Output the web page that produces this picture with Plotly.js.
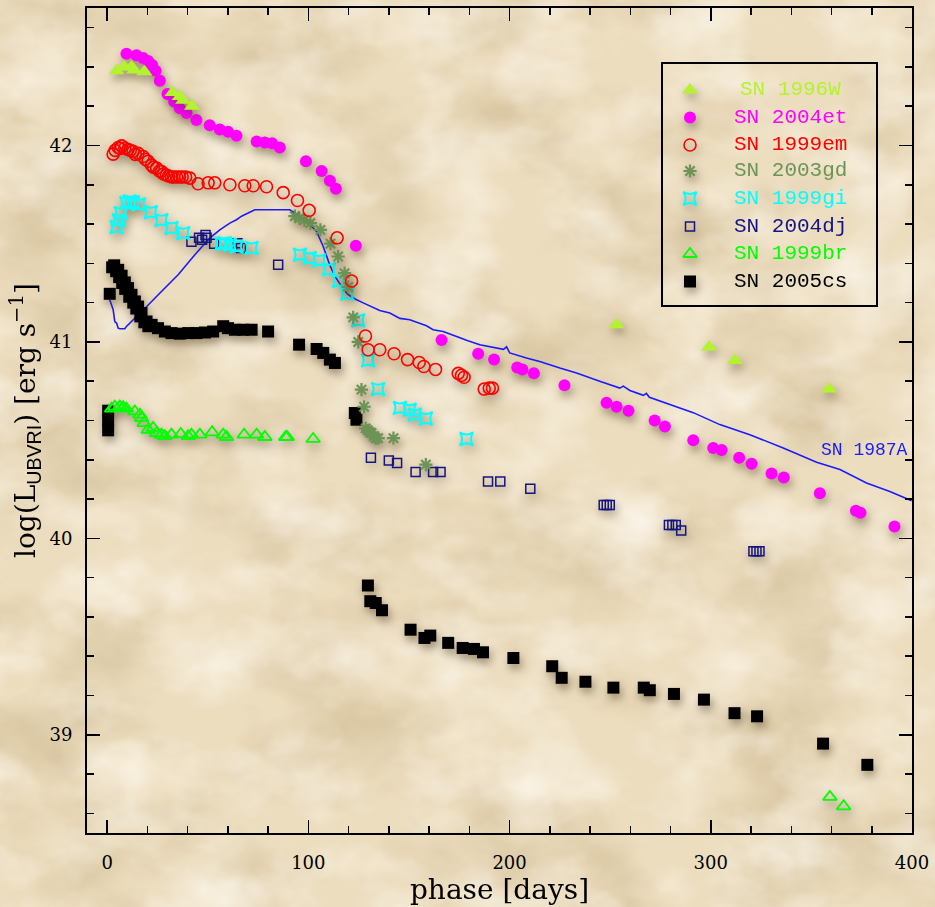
<!DOCTYPE html>
<html>
<head>
<meta charset="utf-8">
<script src="https://cdn.plot.ly/plotly-3.0.1.min.js"></script>
<style>
  html, body { margin: 0; padding: 0; width: 935px; height: 907px; overflow: hidden; background: #ecdec1; }
  #paper { position: absolute; left: 0; top: 0; width: 935px; height: 907px; }
  #chart { position: absolute; left: 0; top: 0; width: 935px; height: 907px; }
  /* soft cast shadow under the data markers */
  #chart .xy .scatterlayer .trace .points { filter: drop-shadow(2px 5px 5px rgba(70, 50, 20, 0.5)); }
</style>
</head>
<body>
<!-- parchment background -->
<svg id="paper" width="935" height="907" xmlns="http://www.w3.org/2000/svg">
  <defs>
    <filter id="brownGrain" x="0" y="0" width="100%" height="100%">
      <feTurbulence type="fractalNoise" baseFrequency="0.007 0.010" numOctaves="5" seed="7"/>
      <feColorMatrix type="matrix" values="0 0 0 0 0.55  0 0 0 0 0.42  0 0 0 0 0.22  1.25 0 0 0 -0.56"/>
    </filter>
    <filter id="lightGrain" x="0" y="0" width="100%" height="100%">
      <feTurbulence type="fractalNoise" baseFrequency="0.012 0.016" numOctaves="4" seed="23"/>
      <feColorMatrix type="matrix" values="0 0 0 0 1  0 0 0 0 0.98  0 0 0 0 0.92  1.3 0 0 0 -0.55"/>
    </filter>
  </defs>
  <rect width="935" height="907" fill="#ecddbf"/>
  <rect width="935" height="907" filter="url(#brownGrain)"/>
  <rect width="935" height="907" filter="url(#lightGrain)"/>
</svg>
<div id="chart"></div>
<script>
// ---- phase [days] and log(L_UBVRI) for each supernova ----
const sn1996wX = [4.7, 8.5, 12.1, 13.4, 18.5, 32.5, 36.1, 37.8, 42.2, 253.2, 299.2, 312.0, 358.8];
const sn1996wY = [42.38, 42.40, 42.40, 42.385, 42.375, 42.27, 42.25, 42.23, 42.20, 41.088, 40.974, 40.906, 40.76];

const sn2004etX = [9.6, 14.6, 17.9, 20.4, 22.4, 24.1, 26.2, 30.0, 33.3, 36.1, 39.5, 44.4, 51.0, 56.0, 60.1, 64.3,
  74.3, 78.4, 82.0, 85.8, 98.8, 106.6, 110.7, 113.7, 123.6, 166.2, 184.4, 192.3, 203.8, 206.4, 212.1, 227.3,
  248.2, 253.2, 259.1, 272.1, 277.2, 291.3, 301.2, 305.4, 314.1, 320.3, 330.2, 336.3, 354.2, 372.1, 374.4, 391.3];
const sn2004etY = [42.467, 42.46, 42.445, 42.43, 42.41, 42.38, 42.33, 42.262, 42.224, 42.19, 42.165, 42.13, 42.103, 42.082, 42.07, 42.05,
  42.02, 42.015, 42.012, 41.99, 41.92, 41.87, 41.82, 41.78, 41.49, 41.01, 40.94, 40.91, 40.87, 40.86, 40.84, 40.78,
  40.69, 40.67, 40.65, 40.60, 40.57, 40.50, 40.46, 40.45, 40.41, 40.38, 40.33, 40.31, 40.23, 40.14, 40.13, 40.06];

const sn1999emX = [3.0, 4.0, 5.5, 6.5, 7.2, 8.8, 10.4, 11.5, 12.9, 14.0, 15.4, 17.9, 19.0, 20.4, 22.1, 23.0, 24.6, 26.0, 27.0,
  28.0, 29.5, 30.5, 32.0, 33.0, 34.5, 36.0, 37.3, 39.0, 41.1, 45.2, 50.2, 53.5, 61.0, 68.4, 72.6, 79.2, 87.5, 94.6,
  100.4, 114.3, 121.5, 128.4, 129.7, 135.5, 142.6, 149.3, 155.1, 157.4, 163.2, 174.5, 176.1, 177.4, 187.4, 189.9, 191.5];
const sn1999emY = [41.956, 41.975, 41.99, 41.985, 41.998, 41.987, 41.98, 41.975, 41.97, 41.955, 41.96, 41.944, 41.93, 41.92, 41.90, 41.89, 41.885, 41.87, 41.868,
  41.855, 41.85, 41.845, 41.84, 41.84, 41.84, 41.84, 41.84, 41.84, 41.834, 41.805, 41.81, 41.81, 41.80, 41.795, 41.795, 41.79, 41.76, 41.72,
  41.67, 41.53, 41.31, 41.03, 40.96, 40.96, 40.94, 40.91, 40.895, 40.875, 40.86, 40.84, 40.83, 40.82, 40.76, 40.765, 40.765];

const sn2003gdX = [93.3, 95.5, 98.0, 101.0, 106.0, 111.0, 114.8, 118.0, 119.8, 122.3, 124.8, 126.4, 127.7, 128.5, 129.5,
  130.5, 131.4, 132.5, 133.5, 134.7, 142.3, 158.4];
const sn2003gdY = [41.64, 41.63, 41.62, 41.605, 41.57, 41.50, 41.435, 41.35, 41.28, 41.125, 41.0, 40.757, 40.67, 40.56, 40.55,
  40.54, 40.536, 40.52, 40.51, 40.51, 40.51, 40.375];

const sn1999giX = [4.7, 5.8, 6.8, 9.6, 11.3, 12.9, 15.8, 21.7, 27.0, 32.0, 37.8, 56.9, 58.5, 61.0, 64.3, 71.8, 95.8, 100.7,
  105.4, 110.3, 115.2, 119.3, 124.8, 129.7, 134.7, 145.5, 150.4, 152.9, 158.4, 178.6];
const sn1999giY = [41.585, 41.62, 41.656, 41.707, 41.715, 41.71, 41.70, 41.66, 41.62, 41.58, 41.554, 41.50, 41.503, 41.495, 41.486, 41.478, 41.444, 41.427,
  41.415, 41.37, 41.31, 41.245, 41.11, 40.906, 40.76, 40.664, 40.655, 40.63, 40.61, 40.506];

const sn2004djX = [41.9, 45.7, 47.2, 48.9, 49.4, 53.2, 64.8, 66.5, 85.0, 131.1, 140.0, 144.1, 153.3, 162.0, 165.7, 189.3,
  195.4, 210.3, 246.8, 248.3, 249.8, 279.2, 280.9, 282.6, 285.3, 321.2, 322.7, 324.2];
const sn2004djY = [41.51, 41.53, 41.52, 41.544, 41.53, 41.50, 41.503, 41.478, 41.393, 40.41, 40.397, 40.384, 40.338, 40.338, 40.338, 40.29,
  40.29, 40.253, 40.17, 40.17, 40.17, 40.068, 40.068, 40.068, 40.04, 39.934, 39.934, 39.934];

const sn1999brX = [2.2, 3.8, 6.3, 8.0, 9.6, 13.8, 16.3, 17.1, 18.4, 20.4, 22.9, 24.6, 27.0, 28.7, 32.0, 36.6, 40.3, 41.9,
  46.1, 52.2, 57.7, 59.3, 68.1, 74.3, 78.4, 88.7, 89.5, 102.4, 359.2, 366.0];
const sn1999brY = [40.66, 40.67, 40.672, 40.667, 40.66, 40.646, 40.63, 40.613, 40.587, 40.553, 40.562, 40.536, 40.528, 40.52, 40.528, 40.531, 40.52, 40.528,
  40.528, 40.54, 40.528, 40.516, 40.528, 40.528, 40.516, 40.516, 40.516, 40.506, 38.684, 38.636];

const sn2005csX = [0.5, 0.5, 0.5, 1.3, 2.5, 3.5, 4.5, 5.5, 6.0, 7.2, 7.5, 8.8, 9.0, 10.4, 11.0, 12.1, 13.0, 13.8, 14.5, 15.4,
  16.5, 17.1, 18.5, 19.6, 20.5, 22.1, 25.3, 28.7, 32.0, 36.1, 40.3, 44.4, 48.6, 52.7, 57.7, 60.1, 63.5, 67.6, 71.8, 80.0,
  95.4, 104.1, 107.4, 110.7, 113.2, 123.1, 123.9, 129.6, 130.8, 133.5, 136.6, 150.8, 157.7, 160.6, 169.5, 176.7,
  182.3, 186.8, 201.9, 221.2, 225.9, 237.7, 251.6, 266.7, 269.7, 281.7, 296.6, 311.8, 323.0, 355.8, 377.8];
const sn2005csY = [40.65, 40.60, 40.55, 41.245, 41.38, 41.39, 41.36, 41.367, 41.33, 41.337, 41.30, 41.303, 41.27, 41.274, 41.23, 41.24, 41.20, 41.206, 41.17, 41.18,
  41.13, 41.147, 41.10, 41.104, 41.08, 41.087, 41.07, 41.053, 41.045, 41.042, 41.045, 41.045, 41.048, 41.053, 41.08, 41.07, 41.062, 41.062, 41.062, 41.053,
  40.986, 40.964, 40.944, 40.91, 40.893, 40.638, 40.604, 39.76, 39.68, 39.671, 39.634, 39.535, 39.493, 39.505, 39.468, 39.442,
  39.437, 39.42, 39.391, 39.349, 39.29, 39.27, 39.24, 39.24, 39.227, 39.208, 39.179, 39.11, 39.094, 38.955, 38.847];

// SN 1987A comparison light curve
const sn1987aX = [1.3, 3.0, 3.8, 4.7, 5.5, 6.3, 8.8, 9.6, 12.1, 13.8, 18.7, 27.0, 35.3, 43.6, 51.0, 56.0, 61.0, 64.3, 66.8,
  70.1, 73.4, 80.0, 90.8, 98.3, 101.6, 104.1, 107.4, 110.7, 113.5, 116.5, 119.5, 123.0, 127.0, 135.5, 140.5, 145.5,
  150.4, 158.7, 162.0, 167.0, 173.7, 178.6, 185.2, 195.2, 197.0, 198.5, 200.1, 208.4, 215.0, 225.0, 233.3, 244.8,
  254.8, 256.5, 259.8, 266.5, 268.0, 269.5, 278.0, 291.3, 304.5, 319.4, 336.0, 352.6, 364.2, 377.4, 389.0, 399.8];
const sn1987aY = [41.215, 41.164, 41.104, 41.096, 41.07, 41.067, 41.067, 41.079, 41.104, 41.12, 41.17, 41.257, 41.342, 41.444, 41.529, 41.571, 41.605, 41.622, 41.64,
  41.656, 41.673, 41.673, 41.673, 41.622, 41.588, 41.562, 41.486, 41.39, 41.33, 41.283, 41.243, 41.22, 41.2, 41.16, 41.147, 41.12,
  41.113, 41.082, 41.062, 41.053, 41.028, 41.008, 40.986, 40.964, 40.962, 40.975, 40.944, 40.918, 40.90, 40.867, 40.842, 40.80,
  40.765, 40.775, 40.753, 40.728, 40.738, 40.718, 40.689, 40.64, 40.579, 40.528, 40.46, 40.387, 40.35, 40.282, 40.239, 40.192];

const seriesNames = ['SN 1996W', 'SN 2004et', 'SN 1999em', 'SN 2003gd', 'SN 1999gi', 'SN 2004dj', 'SN 1999br', 'SN 2005cs'];
const seriesX = [sn1996wX, sn2004etX, sn1999emX, sn2003gdX, sn1999giX, sn2004djX, sn1999brX, sn2005csX];
const seriesY = [sn1996wY, sn2004etY, sn1999emY, sn2003gdY, sn1999giY, sn2004djY, sn1999brY, sn2005csY];
const refName = 'SN 1987A';

// marker styling per series (same order as seriesNames)
const styles = [
  { symbol: 'triangle-up',      size: 14, color: '#b3f22e', line: 0 },
  { symbol: 'circle',           size: 12, color: '#ff00ff', line: 0 },
  { symbol: 'circle-open',      size: 12, color: '#ff0000', line: 1.6 },
  { symbol: 'asterisk-open',    size: 11, color: '#6c9456', line: 2.2 },
  { symbol: 'star-square-open', size: 12, color: '#00ffff', line: 2 },
  { symbol: 'square-open',      size: 9,  color: '#141483', line: 1.5 },
  { symbol: 'triangle-up-open', size: 12, color: '#00ff00', line: 1.8 },
  { symbol: 'square',           size: 12, color: '#000000', line: 0 }
];
const refColor = '#1a1aff';

function markerFor(s) {
  return {
    symbol: s.symbol, size: s.size, color: s.color,
    line: { width: s.line, color: s.color }
  };
}

const traces = [];
traces.push({
  x: sn1987aX, y: sn1987aY, mode: 'lines', name: refName,
  line: { color: refColor, width: 1.6 }, showlegend: false, hoverinfo: 'skip'
});
// draw order: black squares underneath, brightest series on top
const drawOrder = [7, 6, 5, 4, 3, 2, 1, 0];
drawOrder.forEach(i => {
  traces.push({
    x: seriesX[i], y: seriesY[i], mode: 'markers', name: seriesNames[i],
    marker: markerFor(styles[i]), showlegend: false, cliponaxis: false
  });
});

// boxed key in the upper right: symbols on an overlay axis in [0,1] paper units
const plotTop = 8, plotH = 825, plotL = 87, plotW = 825;
const keyRowsPx = [90, 117.5, 145, 171, 198.5, 226.5, 254, 281.5];
const keySymbolPx = 690, keyTextPx = 790;
const fx = px => (px - plotL) / plotW;
const fy = py => 1 - (py - plotTop) / plotH;

seriesNames.forEach((name, i) => {
  traces.push({
    x: [fx(keySymbolPx)], y: [fy(keyRowsPx[i])], xaxis: 'x2', yaxis: 'y2',
    mode: 'markers', marker: markerFor(styles[i]), showlegend: false, hoverinfo: 'skip'
  });
});

const annotations = seriesNames.map((name, i) => ({
  xref: 'paper', yref: 'paper', x: fx(keyTextPx), y: fy(keyRowsPx[i]),
  xanchor: 'center', yanchor: 'middle', showarrow: false, text: name,
  font: { family: 'Liberation Mono, monospace', size: 21, color: styles[i].color }
}));
annotations.push({
  x: 376.6, y: 40.448, xref: 'x', yref: 'y', showarrow: false, text: refName,
  xanchor: 'center', yanchor: 'middle',
  font: { family: 'Liberation Mono, monospace', size: 18, color: refColor }
});

const axisCommon = {
  showline: true, linecolor: '#000', linewidth: 2, mirror: 'ticks',
  ticks: 'inside', ticklen: 13, tickwidth: 1.5, tickcolor: '#000',
  showgrid: false, zeroline: false,
  tickfont: { family: 'DejaVu Serif, serif', size: 18, color: '#000' }
};

const layout = {
  width: 935, height: 907,
  margin: { l: 87, r: 23, t: 8, b: 74, pad: 0 },
  paper_bgcolor: 'rgba(0,0,0,0)', plot_bgcolor: 'rgba(0,0,0,0)',
  showlegend: false,
  xaxis: Object.assign({}, axisCommon, {
    range: [-10, 400], tick0: 0, dtick: 100, ticklabelstandoff: 12,
    minor: { ticks: 'inside', ticklen: 7, tickwidth: 1.5, dtick: 20, tick0: 0, tickcolor: '#000' },
    title: { text: 'phase [days]', standoff: 8, font: { family: 'DejaVu Serif, serif', size: 28, color: '#000' } }
  }),
  yaxis: Object.assign({}, axisCommon, {
    range: [38.5, 42.7], tick0: 0, dtick: 1, ticklabelstandoff: 9,
    minor: { ticks: 'inside', ticklen: 7, tickwidth: 1.5, dtick: 0.2, tick0: 0, tickcolor: '#000' },
    title: {
      text: 'log(L<sub><span style="font-family:Liberation Sans, sans-serif">UBVRI</span></sub>) [erg s<sup>−1</sup>]',
      standoff: 6, font: { family: 'DejaVu Serif, serif', size: 28, color: '#000' }
    }
  }),
  xaxis2: { overlaying: 'x', anchor: 'y2', range: [0, 1], visible: false, fixedrange: true },
  yaxis2: { overlaying: 'y', anchor: 'x2', range: [0, 1], visible: false, fixedrange: true },
  shapes: [{
    type: 'rect', xref: 'paper', yref: 'paper',
    x0: fx(662), x1: fx(877), y0: fy(306), y1: fy(63),
    line: { color: '#000', width: 2 }, fillcolor: 'rgba(0,0,0,0)'
  }],
  annotations: annotations
};

Plotly.newPlot('chart', traces, layout, { staticPlot: true, displayModeBar: false });
</script>
</body>
</html>
